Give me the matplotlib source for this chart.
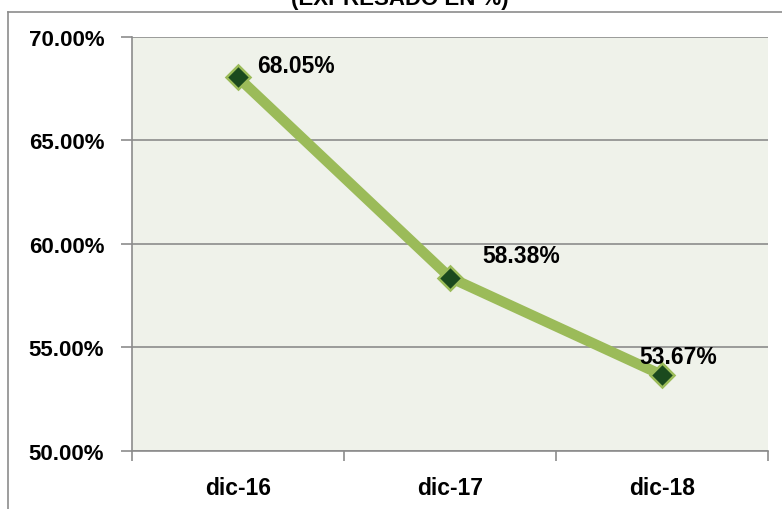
import matplotlib.pyplot as plt
from matplotlib.lines import Line2D

# data
categories = ['dic-16', 'dic-17', 'dic-18']
values = [68.05, 58.38, 53.67]
labels = ['68.05%', '58.38%', '53.67%']
yticks = [50, 55, 60, 65, 70]

plt.rcParams['font.family'] = ['Liberation Sans', 'DejaVu Sans']
plt.rcParams['font.weight'] = 'bold'

fig = plt.figure(figsize=(7.82, 5.10), dpi=100)
W, H = 782, 510
ax = fig.add_axes([132 / W, 1 - 452 / H, (768 - 132) / W, (452 - 38) / H])

x = list(range(len(categories)))
ax.plot(x, values, color='#9BBB59', lw=7.5, solid_capstyle='butt', zorder=3,
        marker='D', markersize=12.5, markerfacecolor='#1B4A1E',
        markeredgecolor='#9BBB59', markeredgewidth=1.8, clip_on=False)

# data labels
offsets = [(19, 12), (32, 22), (-23, 19)]
for xi, v, lab, (dx, dy) in zip(x, values, labels, offsets):
    ax.annotate(lab, (xi, v), xytext=(dx, dy), textcoords='offset pixels',
                fontsize=16.5, fontweight='bold', ha='left', va='center')

ax.set_xlim(-0.5, 2.5)
ax.set_ylim(50, 70)
ax.set_facecolor('#EFF2EA')
ax.set_yticks(yticks)
ax.set_yticklabels(['%.2f%%' % t for t in yticks], fontsize=16, fontweight='bold')
ax.yaxis.grid(True, color='#8C8C8C', lw=1.2)
ax.set_axisbelow(True)

# category ticks between categories
ax.set_xticks([-0.5, 0.5, 1.5, 2.5])
ax.set_xticklabels([])
ax.set_xticks(x, minor=True)
ax.set_xticklabels(categories, minor=True, fontsize=16.5, fontweight='bold')
ax.tick_params(axis='x', which='minor', length=0, pad=18)
ax.tick_params(axis='x', which='major', length=7, color='#8C8C8C', width=1.2)
ax.tick_params(axis='y', length=8, color='#8C8C8C', width=1.2, pad=12)

for s in ['top', 'right']:
    ax.spines[s].set_visible(False)
for s in ['left', 'bottom']:
    ax.spines[s].set_color('#8C8C8C')
    ax.spines[s].set_linewidth(1.2)

# outer chart frame
fig.add_artist(Line2D([8 / W, 8 / W], [0, 1 - 13 / H], color='#8C8C8C', lw=1.2))
fig.add_artist(Line2D([8 / W, 1], [1 - 13 / H, 1 - 13 / H], color='#8C8C8C', lw=1.2))

# title, cut off at top in the original
fig.text(400 / W, 1 - 5 / H, '(EXPRESADO EN %)', ha='center', va='baseline',
         fontsize=16, fontweight='bold')

plt.savefig('out.png', dpi=100)
